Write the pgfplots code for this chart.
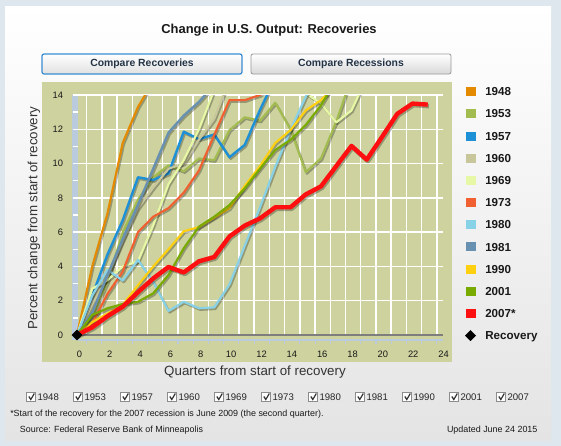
\documentclass[border=0pt]{standalone}
\usepackage{fontspec}
\setmainfont{Liberation Sans}
\usepackage{pgfplots}
\pgfplotsset{compat=1.18}
\definecolor{bgblue}{HTML}{DDE7ED}
\definecolor{panelbot}{HTML}{E4E4E4}
\definecolor{olivebg}{HTML}{CDD29E}
\definecolor{axblue}{HTML}{B9CBDD}
\definecolor{axgray}{HTML}{7E7E7E}
\definecolor{btnblue}{HTML}{3A8CD0}
\definecolor{btntext}{HTML}{233447}
\definecolor{c1948}{HTML}{E48A00}
\definecolor{c1953}{HTML}{A3BC50}
\definecolor{c1957}{HTML}{1E90D6}
\definecolor{c1960}{HTML}{C8C69B}
\definecolor{c1969}{HTML}{E6F7A5}
\definecolor{c1973}{HTML}{F06030}
\definecolor{c1980}{HTML}{88D2E8}
\definecolor{c1981}{HTML}{6890B0}
\definecolor{c1990}{HTML}{FFD010}
\definecolor{c2001}{HTML}{78AA00}
\definecolor{c2007}{HTML}{FF1010}
\newcommand{\series}[3]{%
 \addplot[forget plot, draw=black, opacity=0.28, line width=#2, line join=round, transform canvas={shift={(0.9pt,-1.2pt)}}] coordinates {#3};
 \addplot[forget plot, draw=#1, line width=#2, line join=round] coordinates {#3};
}
\begin{document}
\begin{tikzpicture}
\begin{scope}[x=0.75pt,y=-0.75pt]
\path[use as bounding box] (0,0) rectangle (561,446);
\fill[bgblue] (0,0) rectangle (561,446);
\shade[top color=white,bottom color=panelbot] (5,6) rectangle (551,440);
\node[font=\fontsize{9.7}{11}\bfseries\selectfont, text=black!90] at (269,30) {Change in U.S. Output: Recoveries};
\shadedraw[top color=white,bottom color=black!12,draw=btnblue,line width=0.9pt,rounded corners=1.5pt] (42,54) rectangle (242,74);
\node[font=\fontsize{7.8}{9}\bfseries\selectfont,text=btntext] at (142,64) {Compare Recoveries};
\shadedraw[top color=white,bottom color=black!15,draw=black!40,line width=0.6pt,rounded corners=1.5pt] (251,54) rectangle (451,74);
\node[font=\fontsize{7.8}{9}\bfseries\selectfont,text=btntext] at (351,64) {Compare Recessions};
\fill[olivebg] (42,82) rectangle (452,362);
\fill[axblue] (72,95) rectangle (78,340);
\foreach \v in {0,2,...,14} \draw[white,line width=1.1pt] (73,{335-17.143*\v}) -- (443,{335-17.143*\v});
\foreach \v in {1,3,...,13} \draw[white,line width=1.1pt] (73,{335-17.143*\v}) -- (78,{335-17.143*\v});
\foreach \k in {0,...,23} \draw[white,line width=1.1pt] ({86.6+15.23*\k},95) -- ({86.6+15.23*\k},335);
\draw[axgray,line width=1.6pt] (78,335) -- (443,335);
\draw[axblue,line width=0.8pt] (78,340) -- (443,340);
\foreach \k in {0,...,23} \draw[axblue,line width=0.8pt] ({86.6+15.23*\k},340) -- ({86.6+15.23*\k},344);
% axis labels
\node[font=\fontsize{10}{12}\selectfont,text=black!80] at (255,372.5) {Quarters from start of recovery};
\node[font=\fontsize{10}{12}\selectfont,text=black!80,rotate=90] at (34,218) {Percent change from start of recovery};
% legend
\foreach \lab/\col [count=\i from 0] in {1948/c1948,1953/c1953,1957/c1957,1960/c1960,1969/c1969,1973/c1973,1980/c1980,1981/c1981,1990/c1990,2001/c2001,2007*/c2007} {
  \fill[\col] (466,{91.7+22.18*\i-4.5}) rectangle (476,{91.7+22.18*\i+4.5});
  \node[anchor=base west,inner sep=0pt,font=\fontsize{8.7}{10}\bfseries\selectfont,text=black!90] at (485,{91.7+22.18*\i+4.1}) {\lab};
}
\fill[black] (470.5,330.2) -- (476,335.7) -- (470.5,341.2) -- (465,335.7) -- cycle;
\node[anchor=base west,inner sep=0pt,font=\fontsize{8.7}{10}\bfseries\selectfont,text=black!90] at (485,339.8) {Recovery};
% checkboxes
\foreach \lab [count=\i from 0] in {1948,1953,1957,1960,1969,1973,1980,1981,1990,2001,2007} {
  \pgfmathsetmacro\bx{26.8+47*\i}
  \draw[black!45,fill=white,line width=0.5pt] (\bx,392.5) rectangle ({\bx+9},401.5);
  \draw[black!80,line width=0.9pt] ({\bx+2},396.5) -- ({\bx+4},399.5) -- ({\bx+7.5},393.5);
  \node[anchor=base west,inner sep=0pt,font=\fontsize{7.2}{8}\selectfont,text=black!85] at ({\bx+10.5},400.5) {\lab};
}
\node[anchor=base west,inner sep=0pt,font=\fontsize{6.7}{8}\selectfont,text=black!90] at (10,416.5) {*Start of the recovery for the 2007 recession is June 2009 (the second quarter).};
\node[anchor=base west,inner sep=0pt,font=\fontsize{6.7}{8}\selectfont,text=black!90] at (19.7,432.5) {Source: Federal Reserve Bank of Minneapolis};
\node[anchor=base east,inner sep=0pt,font=\fontsize{6.7}{8}\selectfont,text=black!90] at (537.7,432.5) {Updated June 24 2015};
\end{scope}
\begin{axis}[
  at={(49.5pt,-258.75pt)}, anchor=south west,
  scale only axis, width=283.875pt, height=187.5pt,
  xmin=-0.7213, xmax=24.1, ymin=-0.5834, ymax=14,
  axis line style={draw=none}, major tick style={draw=none}, minor tick style={draw=none},
  xtick={0.16,2.15,4.14,6.13,8.12,10.11,12.10,14.09,16.08,18.07,20.06,22.05,24.04},
  xticklabels={0,2,4,6,8,10,12,14,16,18,20,22,24},
  ytick={0,2,...,14},
  ticklabel style={font=\fontsize{7}{8}\selectfont, text=black!90, inner sep=0pt},
  xticklabel style={yshift=-4.2pt},
  yticklabel style={xshift=-2pt},
  /pgf/number format/assume math mode=true,
]
\series{c1948}{1.6pt}{(0,0)(1,4.0)(2,7.1)(3,11.2)(4,13.3)(5,14.8)}
\series{c1953}{1.6pt}{(0,0)(1,1.1)(2,3.1)(3,6.0)(4,7.9)(5,9.2)(6,9.9)(7,9.55)(8,10.3)(9,10.2)(10,11.95)(11,12.7)(12,12.5)(13,13.55)(14,12.0)(15,9.5)(16,10.3)(17,12.45)(18,15.0)}
\series{c1957}{1.8pt}{(0,0)(1,2.3)(2,4.7)(3,6.7)(4,9.2)(5,9.04)(6,9.43)(7,11.86)(8,11.42)(9,11.7)(10,10.37)(11,11.09)(12,13.13)(13,15.0)}
\series{c1960}{1.6pt}{(0,0)(1,1.8)(2,3.4)(3,5.5)(4,7.4)(5,8.6)(6,9.7)(7,10.0)(8,11.4)(9,12.6)(10,14.9)}
\series{c1969}{1.6pt}{(0,0)(1,2.7)(2,3.2)(3,4.0)(4,4.3)(5,6.4)(6,8.8)(7,10.2)(8,12.0)(9,14.3)(10,15.4)(11,14.8)(12,15.9)(13,14.9)(14,15.3)(15,14.1)(16,13.5)(17,12.4)(18,13.1)(19,15.0)}
\series{c1973}{1.6pt}{(0,0)(1,0.7)(2,2.4)(3,3.7)(4,6.0)(5,6.9)(6,7.4)(7,8.3)(8,9.6)(9,11.67)(10,13.7)(11,13.7)(12,14.0)(13,14.6)}
\series{c1980}{1.6pt}{(0,0)(1,2.3)(2,3.8)(3,3.17)(4,4.38)(5,3.1)(6,1.4)(7,1.94)(8,1.56)(9,1.61)(10,2.95)(11,5.2)(12,7.45)(13,9.8)(14,11.96)(15,13.9)(16,15.5)}
\series{c1981}{1.8pt}{(0,0)(1,1.3)(2,3.5)(3,5.6)(4,7.6)(5,9.7)(6,11.8)(7,12.8)(8,13.6)(9,14.6)}
\series{c1990}{1.6pt}{(0,0)(1,0.75)(2,1.25)(3,1.75)(4,2.9)(5,4.0)(6,5.0)(7,6.05)(8,6.3)(9,6.85)(10,7.4)(11,8.7)(12,9.85)(13,11.2)(14,11.95)(15,13.1)(16,13.7)(17,14.6)}
\series{c2001}{1.6pt}{(0,0)(1,1.17)(2,1.56)(3,1.81)(4,1.94)(5,2.43)(6,3.5)(7,5.06)(8,6.32)(9,6.9)(10,7.58)(11,8.55)(12,9.7)(13,10.79)(14,11.38)(15,12.25)(16,13.4)(17,14.9)}
\series{c2007}{3.3pt}{(0,0)(1,0.45)(2,1.1)(3,1.65)(4,2.5)(5,3.3)(6,3.97)(7,3.65)(8,4.3)(9,4.55)(10,5.75)(11,6.38)(12,6.8)(13,7.45)(14,7.45)(15,8.2)(16,8.67)(17,9.85)(18,11.03)(19,10.23)(20,11.55)(21,12.9)(22,13.5)(23,13.44)}
\addplot[forget plot, only marks, mark=square*, mark size=2.65pt, mark options={rotate=45, fill=black, draw=black}] coordinates {(0,0)};
\end{axis}
\end{tikzpicture}
\end{document}
